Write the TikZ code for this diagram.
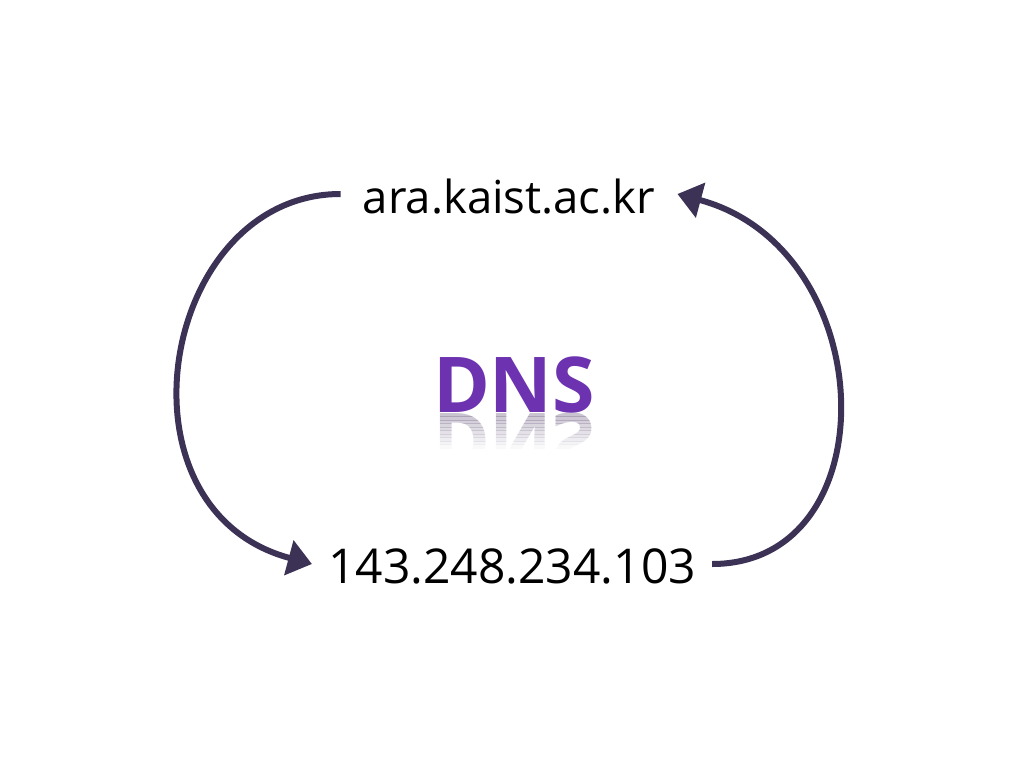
\documentclass[tikz,border=0pt]{standalone}
\usepackage{fontspec}
\setmainfont{Open Sans}
\usetikzlibrary{arrows.meta}
\definecolor{arrowcol}{RGB}{60,50,86}
\definecolor{dnspurple}{RGB}{108,50,176}
\tikzset{
    name text/.style = {
        font=\fontsize{45.5}{54}\selectfont,
        text height=38pt,
        text depth=0pt,
        inner ysep=0pt,
        inner xsep=20pt,
        anchor=base,
        },
    dns text/.style = {
        font=\fontsize{77}{90}\selectfont\bfseries,
        inner sep=0pt,
        anchor=base,
        },
    lookup/.style = {
        draw=arrowcol,
        line width=6pt,
        -{Triangle[length=24pt,width=35pt]},
        },
}
\begin{document}
\begin{tikzpicture}[x=1pt, y=-1pt]
    \useasboundingbox[fill=white] (0,0) rectangle (1024,768);

    \node [name text, inner xsep=22pt] (ara) at (509,213) {ara.kaist.ac.kr};
    \node [name text, inner xsep=16pt, font=\fontsize{48}{56}\selectfont] (ip) at (512,583) {143.248.234.103};
    \node [dns text, text=dnspurple] (dns) at (514,412) {DNS};

    % reflection, fading out in strips
    \foreach \i in {0,...,9} {
        \pgfmathsetmacro{\ytop}{413+3.5*\i}
        \pgfmathsetmacro{\op}{0.4*(1-\i/10)}
        \begin{scope}
            \clip (400,\ytop) rectangle (630,\ytop+3.5);
            \begin{scope}[shift={(514,413)}, yscale=-1]
                \node [dns text, transform shape, text=dnspurple!25!gray, opacity=\op] (dnsrefl\i) at (0,0) {DNS};
            \end{scope}
        \end{scope}
    }

    \draw [lookup] (ara.west) .. controls +(-180,0) and +(-205,-55) .. (ip.west);
    \draw [lookup] (ip.east) .. controls +(178,0) and +(205,55) .. (ara.east);
\end{tikzpicture}
\end{document}
